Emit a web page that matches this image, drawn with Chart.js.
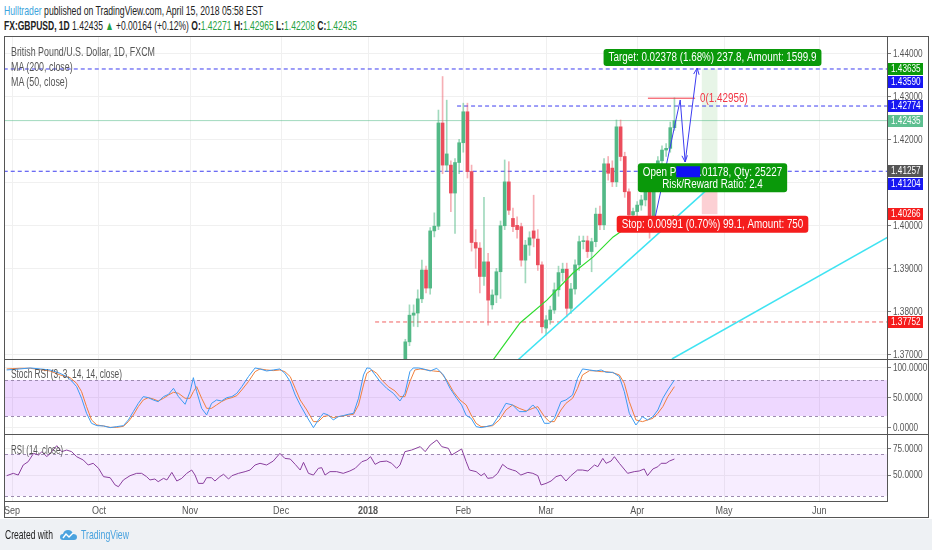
<!DOCTYPE html>
<html>
<head>
<meta charset="utf-8">
<script src="https://cdn.jsdelivr.net/npm/chart.js@4.4.1/dist/chart.umd.min.js"></script>
<style>
  body { margin: 0; width: 932px; height: 550px; overflow: hidden; background: #fff; position: relative;
         font-family: 'Liberation Sans', Arial, sans-serif; }
  .hdr { position: absolute; left: 4px; font-size: 13px; color: #222; white-space: nowrap; transform-origin: 0 50%; }
  .g { color: #27a243; }
  .lbl { position: absolute; left: 11px; font-size: 12px; color: #555; white-space: nowrap; line-height: 15px; transform-origin: 0 50%; }
  canvas { position: absolute; }
  #frame { position: absolute; left: 4px; top: 36px; width: 923px; height: 480px; border: 1px solid #555; }
  .sep { position: absolute; left: 5px; width: 923px; height: 1px; background: #555; }
  #foot { position: absolute; left: 0; top: 519px; width: 932px; height: 31px; background: #eef1f4; }
  #foot span { position: absolute; top: 8px; font-size: 13px; white-space: nowrap; transform-origin: 0 50%; }
</style>
</head>
<body>
<div class="hdr" data-w="259" style="top:3px"><span style="color:#3ba3dc">Hulltrader</span> published on TradingView.com, April 15, 2018 05:58 EST</div>
<div class="hdr" data-w="353" style="top:18px"><b>FX:GBPUSD, 1D</b> 1.42435 <span class="g">▲</span> +0.00164 (+0.12%) <b>O:</b><span class="g">1.42271</span> <b>H:</b><span class="g">1.42965</span> <b>L:</b><span class="g">1.42208</span> <b>C:</b><span class="g">1.42435</span></div>

<div id="frame"></div>
<canvas id="price" width="923" height="322" style="left:5px;top:37px"></canvas>
<div class="sep" style="top:359px"></div>
<canvas id="stoch" width="923" height="74" style="left:5px;top:360px"></canvas>
<div class="sep" style="top:434px"></div>
<canvas id="rsi" width="923" height="82" style="left:5px;top:435px"></canvas>

<div class="lbl" data-w="144" style="top:45px">British Pound/U.S. Dollar, 1D, FXCM<br>MA (200, close)<br>MA (50, close)</div>
<div class="lbl" data-w="111" style="top:367px">Stoch RSI (3, 3, 14, 14, close)</div>
<div class="lbl" data-w="52" style="top:443px">RSI (14, close)</div>

<div id="foot">
  <span data-w="48" style="left:5px;color:#222">Created with</span>
  <svg style="position:absolute;left:60px;top:10px" width="17" height="12" viewBox="0 0 17 12">
    <path d="M3 11 Q0 11 0 8 Q0 5 3 5 Q4 1 8 1 Q12 1 13 5 Q17 5 17 8 Q17 11 14 11 Z" fill="#4aa3df"/>
    <path d="M3 9 L6 5 L9 8 L13 4" stroke="#fff" stroke-width="1.4" fill="none"/>
  </svg>
  <span data-w="48" style="left:81px;color:#4aa3df">TradingView</span>
</div>

<script>
// bar index 0 = 1 Sep 2017 (daily trading bars)
const monthIdx = [0, 21, 43, 65, 86, 109, 129, 151, 172, 195];
const monthLabels = ['Sep', 'Oct', 'Nov', 'Dec', '2018', 'Feb', 'Mar', 'Apr', 'May', 'Jun'];

const priceTicks = [1.37, 1.38, 1.39, 1.40, 1.41, 1.42, 1.43, 1.44];
const stochTicks = [0, 50, 100];
const rsiTicks = [50, 75];

// candles: first visible bar is index 95
const firstBar = 95;
const opens = [1.3655,1.3729,1.3791,1.3796,1.3829,1.3896,1.3854,1.3987,1.3998,1.4238,
  1.4140,1.4140,1.4075,1.4146,1.4192,1.4264,1.4125,1.3960,1.3947,1.3881,
  1.3915,1.3815,1.3838,1.3892,1.3999,1.4101,1.4016,1.4000,1.3997,1.3919,
  1.3954,1.3987,1.3968,1.3908,1.3761,1.3780,1.3803,1.3850,1.3890,1.3898,
  1.3807,1.3852,1.3908,1.3962,1.3964,1.3939,1.3962,1.4026,1.4001,1.4143,
  1.4133,1.4101,1.4229,1.4160,1.4078,1.4024,1.4032,1.4047,1.4059,1.4078,
  1.4008,1.4121,1.4150,1.4175,1.4179,1.42271];
const highs = [1.3735,1.3815,1.3815,1.3850,1.3919,1.3905,1.3995,1.4029,1.4268,1.4346,
  1.4291,1.4150,1.4155,1.4200,1.4284,1.4284,1.4140,1.3990,1.3960,1.4065,
  1.3935,1.3850,1.3900,1.4010,1.4152,1.4148,1.4040,1.4020,1.4005,1.3965,
  1.3985,1.4070,1.3990,1.3915,1.3790,1.3812,1.3866,1.3905,1.3912,1.3912,
  1.3865,1.3920,1.3975,1.3975,1.3975,1.3970,1.4040,1.4045,1.4155,1.4160,
  1.4150,1.4245,1.4245,1.4170,1.4085,1.4040,1.4055,1.4070,1.4090,1.4090,
  1.4135,1.4160,1.4185,1.4190,1.4240,1.42965];
const lows = [1.3640,1.3720,1.3765,1.3764,1.3820,1.3843,1.3840,1.3973,1.3990,1.4120,
  1.4125,1.4032,1.3981,1.4120,1.4170,1.4110,1.3940,1.3900,1.3843,1.3860,
  1.3768,1.3805,1.3820,1.3830,1.3990,1.4025,1.3985,1.3970,1.3905,1.3866,
  1.3930,1.3950,1.3895,1.3750,1.3745,1.3770,1.3795,1.3835,1.3870,1.3787,
  1.3795,1.3840,1.3895,1.3945,1.3925,1.3892,1.3950,1.3990,1.3990,1.4105,
  1.4090,1.4090,1.4150,1.4065,1.4010,1.4010,1.4020,1.4035,1.4045,1.3970,
  1.3985,1.4110,1.4140,1.4160,1.4170,1.42208];
const closes = [1.3729,1.3791,1.3796,1.3829,1.3896,1.3854,1.3987,1.3998,1.4238,1.4140,
  1.4166,1.4075,1.4146,1.4192,1.4264,1.4125,1.3960,1.3947,1.3881,1.3915,
  1.3826,1.3838,1.3892,1.3999,1.4101,1.4035,1.3997,1.3990,1.3919,1.3954,
  1.3971,1.3970,1.3908,1.3764,1.3780,1.3803,1.3850,1.3890,1.3898,1.3807,
  1.3852,1.3908,1.3962,1.3964,1.3939,1.3962,1.4026,1.4001,1.4143,1.4121,
  1.4101,1.4229,1.4160,1.4078,1.4024,1.4032,1.4047,1.4059,1.4078,1.4012,
  1.4121,1.4150,1.4175,1.4179,1.42271,1.42435];

// MA (50, close), read where visible
const maIdx = [116.2, 122.7, 129.2, 135.5, 140.3, 145.2, 147.6, 152.9, 159.9];
const maVal = [1.3687, 1.3773, 1.3826, 1.3889, 1.3926, 1.3973, 1.3989, 1.4003, 1.4022];

// drawings
const trend1Idx = [122.0, 169.3], trend1Val = [1.36851, 1.40953];
const trend2Idx = [159.4, 211.6], trend2Val = [1.36891, 1.39728];
const pathIdx = [154.6, 161.4, 162.6, 165.5];
const pathVal = [1.39844, 1.42914, 1.41472, 1.43658];
const levelVal = [1.43635, 1.42774, 1.41257, 1.37752];
const levelFrom = [-2, 107.5, -2, 87.7];
const lastPrice = 1.42435;
const fibVal = 1.42956, fibIdx = [153.6, 165.0];
const posIdx = 168.5, labelIdx = 169.2;
const entry = 1.41257, target = 1.43635, stop = 1.40266;
const tagVal = [1.43635, 1.43590, 1.42774, 1.42435, 1.41257, 1.41204, 1.40266, 1.37752];

// Stoch RSI %K and %D
const kIdx = [-1.3,1.9,4.4,6.8,9.2,11.6,13.2,14.4,15.6,16.8,18.0,19.2,20.5,22.1,23.7,25.3,26.9,28.1,29.3,30.5,
  31.7,32.9,34.1,35.3,36.6,37.8,39.0,40.2,41.8,43.0,43.8,44.6,45.8,47.0,48.2,49.4,50.6,51.9,53.1,54.3,
  55.5,57.1,58.7,59.9,61.5,63.1,64.7,65.9,67.2,68.4,69.6,71.2,72.8,74.0,75.2,76.4,77.6,78.8,80.0,81.2,
  82.5,83.7,84.9,85.7,86.5,87.7,88.9,90.5,92.1,93.7,94.9,96.1,96.9,98.2,99.4,101.0,102.6,104.2,105.8,107.4,
  108.6,109.7,110.9,112.1,113.3,114.5,116.1,117.7,119.3,120.9,122.5,124.2,125.8,127.0,128.6,129.8,131.0,132.6,133.8,135.4,
  136.6,137.8,139.5,141.1,142.3,143.5,145.1,146.7,147.9,149.1,150.7,152.3,153.5,154.8,156.0,157.2,158.4,160.0];
const kVal = [96.7,98.4,100,98.4,96.7,91.1,85.6,78.4,68.9,49.5,24.5,7.8,3.9,3.4,0.6,2.3,3.9,13.4,27.3,41.1,
  52.3,50.6,46.7,43.9,52.3,56.1,66.1,52.3,39.5,60.6,83.9,60.6,32.8,21.7,41.1,46.7,45.0,50.6,52.3,57.8,
  68.9,85.6,100,98.4,95.0,96.7,98.4,91.1,77.3,55.0,38.4,18.9,0.6,13.4,24.5,21.7,13.4,18.9,20.6,22.8,
  24.5,49.5,88.4,100,99.5,88.4,77.3,66.1,57.8,45.0,57.8,93.9,100,100,98.4,95.0,99.5,88.4,66.1,49.5,
  38.4,21.0,16.1,2.3,0.6,2.3,5.0,21.7,41.1,38.4,27.3,27.3,38.4,30.0,7.8,7.8,16.1,43.9,46.7,55.0,
  82.8,98.4,96.7,95.0,96.7,92.8,92.8,85.6,60.6,24.5,5.0,18.9,13.4,18.9,30.0,49.5,63.4,80.0];
const dIdx = [-1.3,1.9,4.4,6.8,9.2,11.6,14.0,15.6,16.8,18.0,19.2,20.5,22.1,23.7,25.3,26.9,28.1,29.3,30.5,31.7,
  32.9,34.1,35.3,36.6,37.8,39.0,40.2,41.8,43.0,43.8,44.6,45.8,47.0,48.2,49.4,50.6,51.9,53.1,54.3,55.5,
  57.1,58.7,59.9,61.5,63.1,64.7,65.9,67.2,68.4,69.6,71.2,72.8,74.0,75.2,76.4,77.6,78.8,80.0,81.2,82.5,
  83.7,84.9,85.7,86.9,88.1,89.3,90.9,92.5,93.7,94.9,96.1,97.3,98.6,100.2,101.8,103.4,105.0,106.6,108.2,109.7,
  110.9,112.1,113.3,114.5,116.1,117.7,119.3,120.9,122.5,124.2,125.8,127.0,128.6,129.8,131.0,132.6,133.8,135.4,136.6,137.8,
  139.5,141.1,142.3,143.5,145.1,146.7,147.9,149.1,150.7,152.3,153.5,154.8,156.0,157.2,158.4,160.0];
const dVal = [98.4,99.5,99.5,97.3,95.0,88.4,83.9,74.5,60.6,35.6,13.4,5.0,3.4,1.1,1.1,2.8,10.6,21.7,35.6,46.7,
  50.6,48.4,45.0,49.5,55.0,59.5,57.8,49.5,49.5,60.6,68.9,49.5,32.8,32.8,38.4,43.9,48.4,50.6,53.9,63.4,
  77.3,93.9,98.4,96.7,95.6,96.7,93.9,85.6,66.1,46.7,30.0,10.6,10.6,18.9,20.6,17.3,18.9,20.0,21.7,22.8,
  38.4,71.7,91.1,96.7,91.1,80.0,68.9,61.7,52.3,52.3,77.3,96.7,98.4,96.7,95.0,93.9,80.0,60.6,46.7,38.4,
  21.7,7.8,2.3,2.3,3.9,13.4,30.0,38.4,32.8,28.4,32.8,35.6,18.9,10.6,10.6,30.0,41.1,49.5,66.1,88.4,
  95.6,95.0,93.9,93.9,92.2,88.4,74.5,43.9,13.4,10.6,13.4,16.1,24.5,35.6,52.3,68.9];
const stochBand = [20, 80];

// RSI (14)
const rsiIdx = [-1.3,0.3,1.5,2.7,3.9,5.2,6.4,7.2,8.4,9.6,10.8,12.0,13.2,14.4,15.6,17.2,18.4,19.6,20.9,22.1,
  23.7,24.9,25.7,26.9,28.5,30.1,31.3,32.5,33.3,34.5,35.3,36.6,37.4,38.6,39.8,41.0,42.2,43.4,44.2,45.0,
  46.2,47.0,48.2,49.0,50.2,51.1,52.3,53.1,54.7,56.3,57.5,58.7,59.9,61.5,63.1,64.7,65.9,67.2,68.4,69.6,
  70.4,71.6,72.8,74.0,74.8,75.6,76.8,78.4,80.0,81.6,82.9,84.5,85.7,86.6,87.7,88.9,90.5,91.7,92.9,93.7,
  94.9,96.5,98.6,99.8,101.0,102.6,103.8,105.4,106.2,108.6,109.7,110.5,112.1,113.3,114.1,114.9,116.1,117.3,118.5,119.7,
  120.9,121.7,122.9,124.6,125.8,127.0,127.8,129.0,130.2,131.4,132.6,133.8,135.0,136.6,137.8,139.1,140.7,141.5,142.7,143.5,
  144.7,145.5,146.7,148.7,150.3,151.5,152.7,153.5,154.8,156.0,156.8,158.0,158.8,160.0];
const rsiVal = [49.4,51.6,50.0,59.4,62.5,70.3,68.8,71.9,67.2,71.9,77.5,71.9,73.4,71.9,67.2,64.1,59.4,61.0,56.3,48.5,
  47.5,40.7,39.1,45.4,49.4,51.6,51.6,48.5,45.4,46.3,43.8,46.9,45.4,52.5,44.4,46.9,51.6,54.7,50.0,42.2,
  42.2,47.5,47.5,44.4,48.5,50.7,46.3,49.4,51.6,53.2,54.7,59.4,61.0,59.4,63.1,70.3,65.6,65.0,60.0,54.7,
  61.9,51.6,50.0,56.3,56.9,50.0,53.2,53.2,51.6,53.8,56.3,62.5,64.1,67.2,60.0,62.5,63.1,61.0,56.3,59.4,
  71.9,73.4,76.6,71.9,78.1,82.8,76.6,75.0,68.8,74.4,62.5,54.7,53.2,49.4,51.6,46.9,47.5,51.6,60.0,56.3,
  54.7,53.8,50.0,52.5,51.6,49.4,40.7,42.2,44.4,48.5,50.0,44.4,49.4,54.7,54.7,53.8,59.4,57.8,65.6,61.0,
  63.1,67.2,61.0,51.6,53.2,53.8,55.7,49.4,55.7,57.8,61.0,61.0,63.1,65.0];
const rsiBand = [30, 70];

// ---- styling / layout ----
const FONT = "'Liberation Sans', Arial, sans-serif";
Chart.defaults.font.family = FONT;
Chart.defaults.font.size = 10;
Chart.defaults.color = '#555';
Chart.defaults.animation = false;

// the original uses a condensed face; squeeze html text to the measured widths
document.querySelectorAll('[data-w]').forEach(el => {
  const w = el.getBoundingClientRect().width;
  el.style.transform = 'scaleX(' + (el.dataset.w / w) + ')';
});

const X_MIN = -1.7, X_MAX = 211.35;
const UP = '#53b987', DOWN = '#eb4d5c';
const BLUE = '#3c3cf0';
const SQ = 0.82;
const tagColors = ['#0a990a', '#1818f2', '#1818f2', '#5dbf90', '#555555', '#1818f2', '#f51d1d', '#f51d1d'];

const pts = (xs, ys) => xs.map((x, i) => ({x, y: ys[i]}));

// draw text squeezed horizontally
function narrow(ctx, text, x, y, align) {
  const w = ctx.measureText(text).width * SQ;
  const left = align === 'center' ? x - w / 2 : x;
  ctx.save();
  ctx.translate(left, y); ctx.scale(SQ, 1);
  ctx.textAlign = 'left';
  ctx.fillText(text, 0, 0);
  ctx.restore();
  return w;
}

function xScale() {
  return {
    type: 'linear', min: X_MIN, max: X_MAX, offset: false,
    afterBuildTicks: s => { s.ticks = monthIdx.map(v => ({value: v})); },
    afterFit: s => { s.height = 0; },
    grid: { color: '#f0f0f0', drawTicks: false, offset: false },
    border: { display: false },
    ticks: { display: false }
  };
}

function yScale(min, max, ticks) {
  return {
    position: 'right', min, max,
    afterBuildTicks: s => { s.ticks = ticks.map(v => ({value: v})); },
    afterFit: s => { s.width = 41; },
    grid: { color: '#f0f0f0', tickColor: '#777', tickLength: 4 },
    border: { color: '#555' },
    ticks: { display: false }
  };
}

// tick labels drawn with the narrow face
function axisText(digits, monthAxis) {
  return {
    id: 'axisText',
    afterDraw(chart) {
      const {ctx, chartArea: a, scales: {x, y}} = chart;
      ctx.save();
      ctx.fillStyle = '#555'; ctx.textBaseline = 'middle';
      ctx.font = '10px ' + FONT;
      y.ticks.forEach(t => narrow(ctx, t.value.toFixed(digits), a.right + 6, y.getPixelForValue(t.value) + 0.5));
      if (monthAxis) {
        ctx.strokeStyle = '#555'; ctx.lineWidth = 1;
        ctx.beginPath(); ctx.moveTo(a.left, a.bottom + 0.5); ctx.lineTo(a.right, a.bottom + 0.5); ctx.stroke();
        monthIdx.forEach((v, i) => {
          ctx.font = (monthLabels[i] === '2018' ? 'bold ' : '') + '11px ' + FONT;
          narrow(ctx, monthLabels[i], x.getPixelForValue(v), a.bottom + 10, 'center');
        });
      }
      ctx.restore();
    }
  };
}

const common = {
  responsive: false, maintainAspectRatio: false, events: [],
  layout: { padding: 0 },
  plugins: { legend: { display: false }, tooltip: { enabled: false } }
};

function line(data, color, width, dash, order) {
  return { type: 'line', data, borderColor: color, borderWidth: width, borderDash: dash || [],
           pointRadius: 0, fill: false, tension: 0, order: order || 0 };
}
function bars(data, color, thick, order) {
  return { type: 'bar', data, backgroundColor: color, barThickness: thick, grouped: false,
           minBarLength: 1, borderWidth: 0, order };
}

// candles split into up / down bodies and wicks
const upBody = [], dnBody = [], upWick = [], dnWick = [];
opens.forEach((o, i) => {
  const x = firstBar + i, up = closes[i] >= o;
  (up ? upBody : dnBody).push({x, y: [o, closes[i]]});
  (up ? upWick : dnWick).push({x, y: [lows[i], highs[i]]});
});

function roundTag(ctx, lines, cx, top, bg) {
  ctx.font = '12px ' + FONT;
  const w = Math.max(...lines.map(t => ctx.measureText(t).width)) * SQ + 10;
  const h = lines.length * 12 + 5;
  ctx.fillStyle = bg;
  ctx.beginPath(); ctx.roundRect(cx - w / 2, top, w, h, 3); ctx.fill();
  ctx.fillStyle = '#fff'; ctx.textBaseline = 'middle';
  lines.forEach((t, i) => narrow(ctx, t, cx, top + 9 + i * 12, 'center'));
}

function arrowHead(ctx, x1, y1, x2, y2) {
  const a = Math.atan2(y2 - y1, x2 - x1), L = 7;
  ctx.beginPath();
  ctx.moveTo(x2 - L * Math.cos(a - 0.4), y2 - L * Math.sin(a - 0.4));
  ctx.lineTo(x2, y2);
  ctx.lineTo(x2 - L * Math.cos(a + 0.4), y2 - L * Math.sin(a + 0.4));
  ctx.stroke();
}

const priceOverlay = {
  id: 'priceOverlay',
  afterDatasetsDraw(chart) {
    const {ctx, scales: {x, y}} = chart;
    ctx.save();
    // arrowheads on the projected path
    ctx.strokeStyle = BLUE; ctx.lineWidth = 1;
    const px = pathIdx.map(v => x.getPixelForValue(v)), py = pathVal.map(v => y.getPixelForValue(v));
    arrowHead(ctx, px[1], py[1], px[2], py[2]);
    arrowHead(ctx, px[2], py[2], px[3], py[3]);
    // fib level text
    ctx.font = '12px ' + FONT; ctx.fillStyle = '#f23645'; ctx.textBaseline = 'middle';
    narrow(ctx, '0(1.42956)', x.getPixelForValue(fibIdx[1]) + 5, y.getPixelForValue(fibVal));
    // position labels
    const cx = x.getPixelForValue(labelIdx);
    roundTag(ctx, ['Target: 0.02378 (1.68%) 237.8, Amount: 1599.9'], cx, y.getPixelForValue(target) - 20, '#0a990a');
    const openTop = y.getPixelForValue(entry) - 8;
    const l1 = 'Open P&L: 0.01178, Qty: 25227';
    roundTag(ctx, [l1, 'Risk/Reward Ratio: 2.4'], cx, openTop, '#0a990a');
    ctx.font = '12px ' + FONT;
    const sx = cx - ctx.measureText(l1).width * SQ / 2 + ctx.measureText('Open P').width * SQ;
    ctx.fillStyle = '#1010f5';
    ctx.fillRect(sx, openTop + 3, ctx.measureText('&L: 0').width * SQ + 1, 11);
    roundTag(ctx, ['Stop: 0.00991 (0.70%) 99.1, Amount: 750'], cx, y.getPixelForValue(stop) + 2, '#f51d1d');
    ctx.restore();
  },
  afterDraw(chart) {
    const {ctx, chartArea: a, scales: {y}} = chart;
    ctx.save();
    ctx.font = '10px ' + FONT; ctx.textBaseline = 'middle';
    // price tags, pushed apart where they would overlap
    let prev = -Infinity;
    tagVal.forEach((p, i) => {
      let yy = Math.round(y.getPixelForValue(p));
      if (yy < prev + 13) yy = prev + 13;
      prev = yy;
      ctx.fillStyle = tagColors[i];
      ctx.fillRect(a.right + 1, yy - 6, 35, 12);
      ctx.fillStyle = '#fff';
      narrow(ctx, p.toFixed(5), a.right + 4, yy + 0.5);
    });
    ctx.restore();
  }
};

function bandPlugin(band, fill) {
  return {
    id: 'band',
    beforeDatasetsDraw(chart) {
      const {ctx, chartArea: a, scales: {y}} = chart;
      const y1 = Math.round(y.getPixelForValue(band[1])), y2 = Math.round(y.getPixelForValue(band[0]));
      ctx.save();
      ctx.fillStyle = fill;
      ctx.fillRect(a.left, y1, a.width, y2 - y1);
      ctx.strokeStyle = '#9d8bb0'; ctx.lineWidth = 1; ctx.setLineDash([3, 3]);
      [y1, y2].forEach(v => { ctx.beginPath(); ctx.moveTo(a.left, v + 0.5); ctx.lineTo(a.right, v + 0.5); ctx.stroke(); });
      ctx.restore();
    }
  };
}

// ---- price panel ----
const levelColors = [BLUE, BLUE, BLUE, '#f06060'];
const priceSets = [
  line(pts(pathIdx, pathVal), BLUE, 1, null, 0),
  line(pts(fibIdx, [fibVal, fibVal]), '#f23645', 1, null, 0),
  line(pts(maIdx, maVal), '#2fdc2f', 1.2, null, 0),
  line(pts(trend1Idx, trend1Val), '#3fe3f2', 1.5, null, 0),
  line(pts(trend2Idx, trend2Val), '#3fe3f2', 1.5, null, 0),
  bars(upBody, UP, 3, 1),
  bars(dnBody, DOWN, 3, 1),
  bars(upWick, 'rgba(83,185,135,0.55)', 1, 2),
  bars(dnWick, 'rgba(235,77,92,0.45)', 1, 2),
  line(pts([X_MIN - 1, X_MAX + 1], [lastPrice, lastPrice]), 'rgba(83,185,135,0.55)', 1, null, 3),
  bars([{x: posIdx, y: [entry, target]}], 'rgba(20,160,20,0.10)', 15, 4),
  bars([{x: posIdx, y: [stop, entry]}], 'rgba(240,40,60,0.22)', 15, 4)
];
levelVal.forEach((v, i) => {
  priceSets.push(line(pts([levelFrom[i], X_MAX + 1], [v, v]), levelColors[i], 1, [4, 3], 3));
});

new Chart(document.getElementById('price'), {
  type: 'line',
  data: { datasets: priceSets },
  options: { ...common, scales: { x: xScale(), y: yScale(1.36891, 1.44379, priceTicks) } },
  plugins: [axisText(5, false), priceOverlay]
});

// ---- Stoch RSI panel ----
new Chart(document.getElementById('stoch'), {
  type: 'line',
  data: { datasets: [
    line(pts(kIdx, kVal), '#3d9bf2', 1, null, 0),
    line(pts(dIdx, dVal), '#f07f3c', 1, null, 1)
  ] },
  options: { ...common, scales: { x: xScale(), y: yScale(-10, 113.3, stochTicks) } },
  plugins: [bandPlugin(stochBand, 'rgba(153,21,255,0.17)'), axisText(4, false)]
});

// ---- RSI panel (carries the month axis) ----
const rsiX = xScale();
rsiX.afterFit = s => { s.height = 16; };
new Chart(document.getElementById('rsi'), {
  type: 'line',
  data: { datasets: [ line(pts(rsiIdx, rsiVal), '#8a3f9e', 1, null, 0) ] },
  options: { ...common, scales: { x: rsiX, y: yScale(25.7, 87.5, rsiTicks) } },
  plugins: [bandPlugin(rsiBand, 'rgba(153,21,255,0.08)'), axisText(4, true)]
});
</script>
</body>
</html>
